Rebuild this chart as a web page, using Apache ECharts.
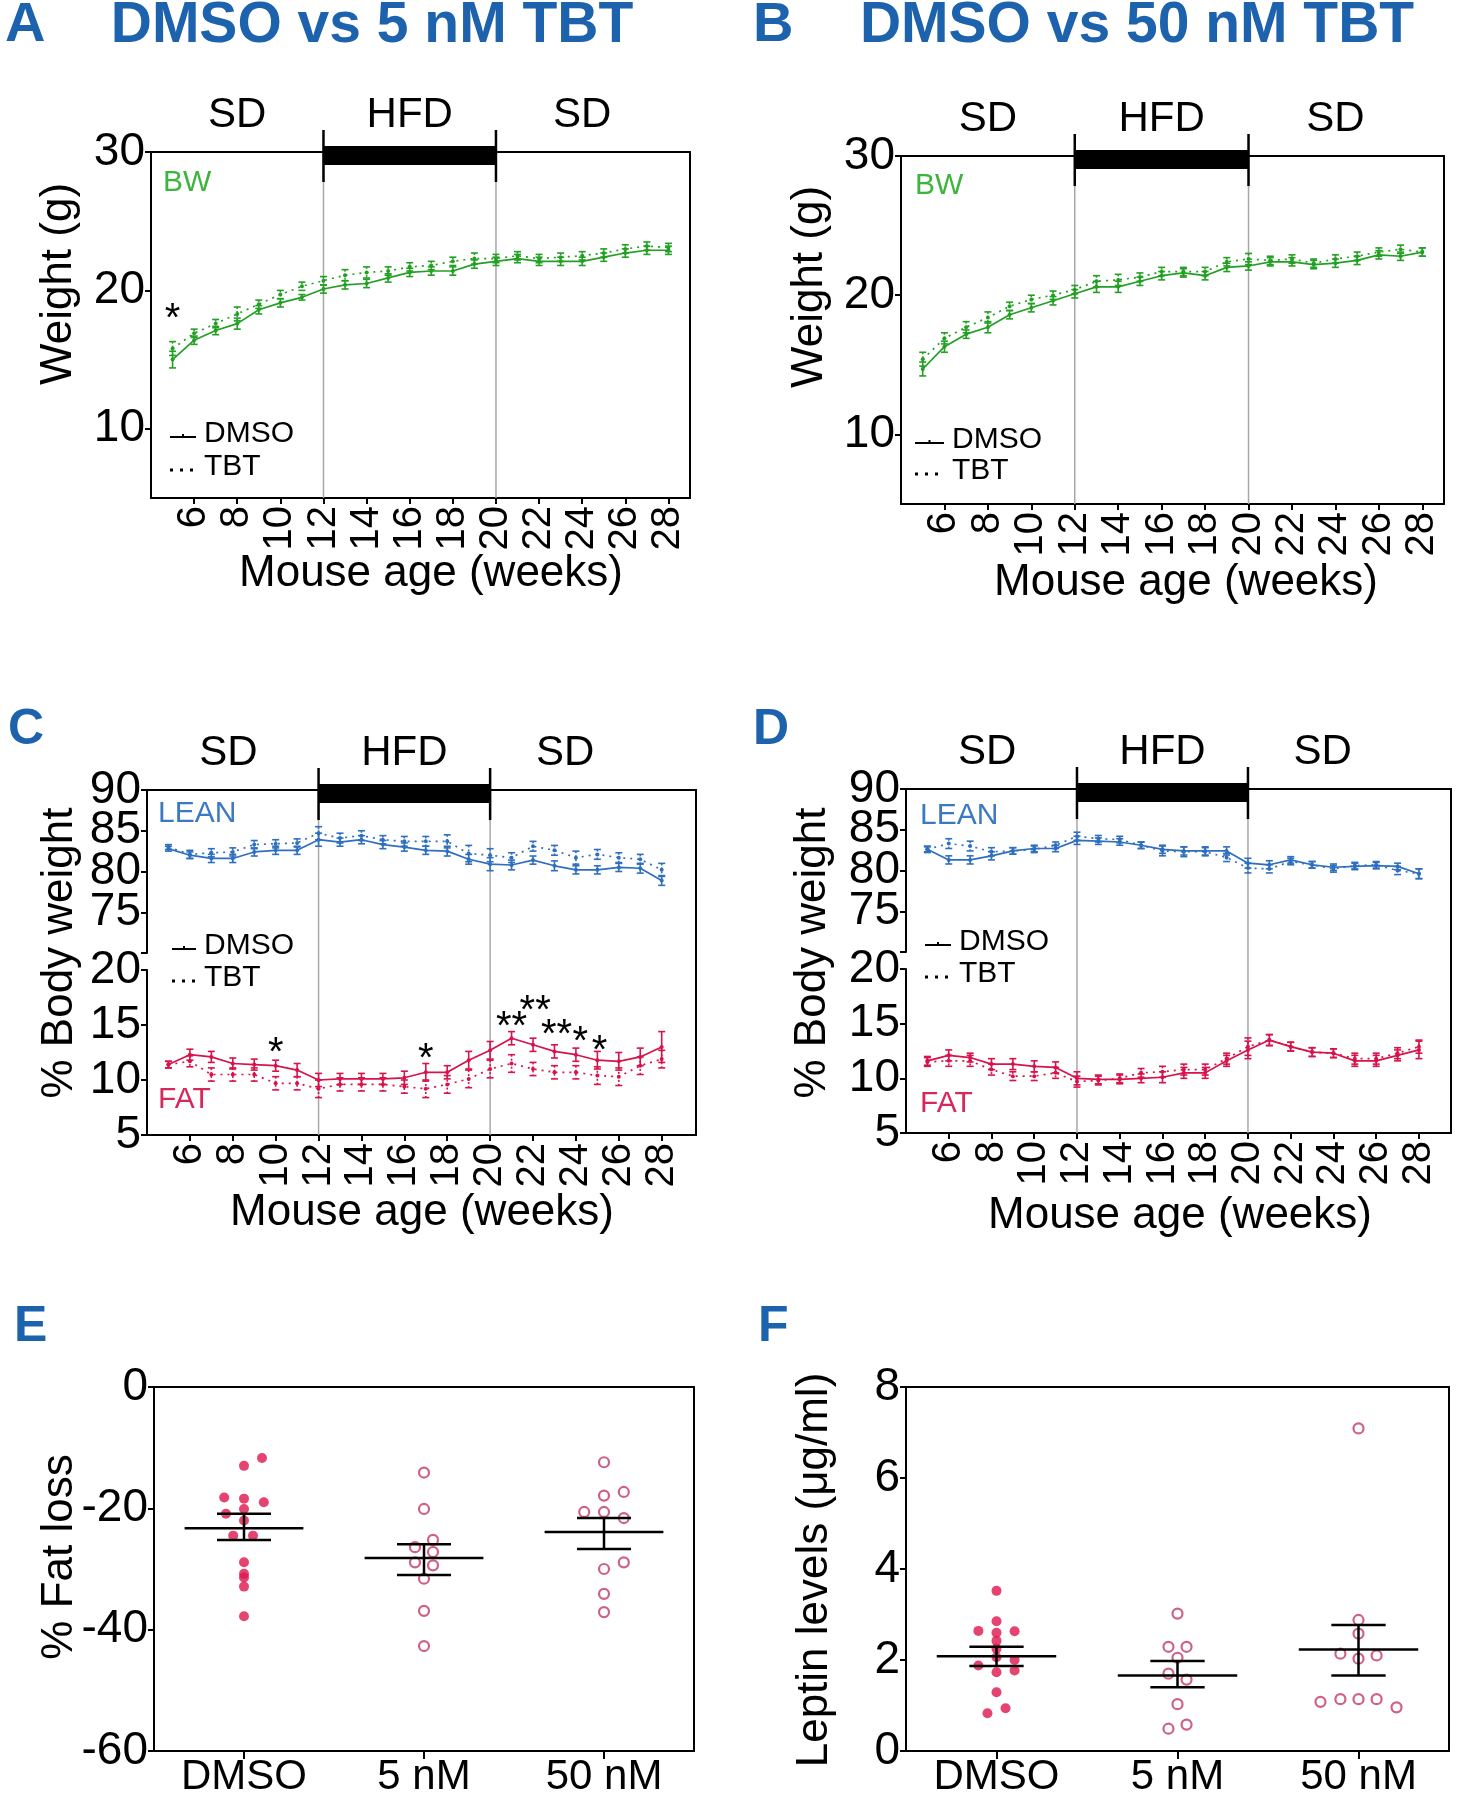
<!DOCTYPE html>
<html><head><meta charset="utf-8">
<script src="https://cdn.jsdelivr.net/npm/echarts@6/dist/echarts.min.js"></script>
<style>html,body{margin:0;padding:0;background:#fff}#c{width:1459px;height:1800px}</style>
</head><body><div id="c"></div>
<script>
// ---------------- DATA ----------------
const weeks = [5,6,7,8,9,10,11,12,13,14,15,16,17,18,19,20,21,22,23,24,25,26,27,28];
const weekTicks = [6,8,10,12,14,16,18,20,22,24,26,28];
const dietLabels = ['SD','HFD','SD'];
const dietLabelWeeksAB = [8,16,24];
const dietLabelWeeksCD = [7.8,16,23.5];
const dietSwitch = [12,20];

// Panel A (DMSO vs 5 nM TBT) body weight, g
const aDmso    = [15.0,16.4,17.1,17.6,18.6,19.1,19.5,20.1,20.4,20.5,20.9,21.3,21.4,21.4,21.9,22.1,22.3,22.1,22.1,22.1,22.4,22.7,22.9,22.9];
const aDmsoErr = [0.6,0.3,0.3,0.4,0.3,0.3,0.2,0.3,0.3,0.3,0.3,0.3,0.3,0.3,0.3,0.3,0.3,0.3,0.3,0.3,0.3,0.3,0.3,0.3];
const aTbt     = [15.8,16.9,17.6,18.3,19.0,19.7,20.3,20.7,21.1,21.3,21.4,21.7,21.8,22.1,22.3,22.3,22.5,22.3,22.4,22.5,22.7,23.0,23.2,23.1];
const aTbtErr  = [0.5,0.3,0.3,0.5,0.3,0.3,0.3,0.3,0.4,0.4,0.3,0.3,0.3,0.3,0.4,0.3,0.3,0.3,0.3,0.3,0.3,0.3,0.3,0.3];
const aStars   = [[5,18.6,'*']];

// Panel B (DMSO vs 50 nM TBT) body weight, g
const bDmso    = [14.7,16.3,17.2,17.7,18.6,19.1,19.6,20.1,20.6,20.6,21.0,21.4,21.6,21.4,22.0,22.1,22.4,22.4,22.2,22.3,22.5,22.9,22.8,23.1];
const bDmsoErr = [0.5,0.4,0.3,0.4,0.3,0.3,0.3,0.3,0.4,0.4,0.3,0.3,0.3,0.3,0.3,0.3,0.3,0.3,0.3,0.3,0.3,0.3,0.3,0.3];
const bTbt     = [15.4,16.9,17.7,18.4,19.2,19.7,20.0,20.4,21.0,21.1,21.3,21.7,21.7,21.7,22.4,22.6,22.5,22.6,22.3,22.6,22.8,23.1,23.3,23.1];
const bTbtErr  = [0.5,0.4,0.4,0.4,0.3,0.3,0.3,0.3,0.4,0.4,0.3,0.3,0.3,0.3,0.3,0.4,0.3,0.3,0.3,0.3,0.3,0.3,0.3,0.3];

// Panel C (5 nM) % body weight
const cLeanDmso    = [82.8,82.0,81.6,81.6,82.4,82.6,82.6,83.9,83.6,83.9,83.3,83.0,82.6,82.5,81.5,80.9,80.8,81.4,80.7,80.2,80.2,80.5,80.4,78.9];
const cLeanDmsoErr = [0.3,0.4,0.5,0.5,0.5,0.5,0.5,0.8,0.5,0.5,0.5,0.5,0.5,0.6,0.6,0.8,0.6,0.5,0.6,0.5,0.5,0.5,0.6,0.6];
const cLeanTbt     = [83.0,82.1,82.3,82.4,83.3,83.4,83.5,84.7,84.1,84.4,83.9,83.7,83.7,83.7,82.2,82.0,81.7,83.1,82.6,81.7,82.1,81.7,81.5,80.2];
const cLeanTbtErr  = [0.3,0.5,0.5,0.5,0.5,0.5,0.5,0.8,0.6,0.6,0.5,0.6,0.6,0.8,1.0,0.8,0.6,0.6,0.6,0.8,0.6,0.6,0.6,0.8];
const cFatDmso     = [11.4,12.3,12.1,11.5,11.4,11.3,10.9,10.0,10.1,10.1,10.1,10.2,10.7,10.7,11.8,12.7,13.8,13.2,12.6,12.3,11.8,11.7,12.1,13.0];
const cFatDmsoErr  = [0.3,0.5,0.5,0.5,0.5,0.5,0.6,0.6,0.5,0.5,0.5,0.6,0.8,0.6,0.8,0.8,0.6,0.6,0.6,0.6,0.8,0.8,0.8,1.4];
const cFatTbt      = [11.4,11.7,10.5,10.5,10.5,9.7,9.7,9.2,9.6,9.6,9.6,9.4,9.2,9.6,10.1,11.0,11.5,11.0,10.7,10.7,10.4,10.3,11.3,11.9];
const cFatTbtErr   = [0.3,0.5,0.6,0.6,0.6,0.6,0.6,0.8,0.6,0.6,0.6,0.6,0.8,0.8,0.8,0.8,0.8,0.6,0.6,0.6,0.8,0.8,0.8,0.8];
const cStars = [[10,13.3,'*'],[17,12.7,'*'],[21,15.6,'**'],[22.1,17.1,'**'],[23.1,14.9,'**'],[24.2,14.3,'*'],[25.1,13.5,'*']];

// Panel D (50 nM) % body weight
const dLeanDmso    = [82.6,81.3,81.3,81.8,82.4,82.7,82.7,83.7,83.6,83.5,83.1,82.6,82.4,82.4,82.4,80.9,80.7,81.3,80.7,80.4,80.5,80.6,80.5,79.6];
const dLeanDmsoErr = [0.3,0.5,0.5,0.5,0.4,0.4,0.4,0.5,0.4,0.4,0.4,0.5,0.5,0.5,0.5,0.6,0.5,0.4,0.4,0.4,0.4,0.4,0.4,0.6];
const dLeanTbt     = [82.6,83.3,83.0,82.3,82.4,82.6,83.1,84.2,83.9,83.8,83.1,82.4,82.3,82.3,81.6,80.3,80.2,81.1,80.7,80.2,80.6,80.7,80.0,79.6];
const dLeanTbtErr  = [0.4,0.6,0.6,0.5,0.4,0.4,0.4,0.5,0.4,0.4,0.4,0.6,0.6,0.5,0.5,0.6,0.5,0.4,0.4,0.4,0.4,0.4,0.5,0.6];
const dFatDmso     = [11.6,12.1,11.9,11.3,11.3,11.1,11.0,10.0,9.9,9.9,10.0,10.1,10.5,10.5,11.6,12.6,13.5,12.9,12.4,12.3,11.6,11.6,12.1,12.6];
const dFatDmsoErr  = [0.4,0.5,0.4,0.5,0.5,0.5,0.5,0.6,0.4,0.4,0.4,0.5,0.5,0.5,0.5,0.8,0.5,0.4,0.4,0.4,0.5,0.5,0.5,0.8];
const dFatTbt      = [11.5,11.6,11.6,10.8,10.2,10.2,10.5,9.7,9.8,10.0,10.5,10.6,10.8,10.8,11.8,12.9,13.5,12.9,12.4,12.3,11.8,11.8,12.3,12.9];
const dFatTbtErr   = [0.4,0.5,0.5,0.5,0.4,0.4,0.5,0.5,0.4,0.4,0.4,0.5,0.5,0.5,0.5,0.8,0.5,0.4,0.4,0.4,0.5,0.5,0.5,0.6];

// Panels E / F
const groups = ['DMSO','5 nM','50 nM'];
const eDmso     = [-11.7,-13.0,-18.2,-19.0,-18.4,-20.1,-20.9,-22.0,-24.5,-24.5,-28.9,-30.8,-31.4,-32.9,-37.8];
const eDmsoJit  = [0.1,0,-0.11,0.11,0,0,-0.1,0,-0.06,0.05,0,0,0,0,0];
const e5nM      = [-14.1,-20.1,-25.2,-26.4,-27.2,-28.9,-29.4,-31.6,-36.9,-42.7];
const e5nMJit   = [0,0,0.05,-0.05,0.05,-0.05,0.05,0,0,0];
const e50nM     = [-12.4,-17.9,-17.3,-20.6,-20.6,-21.6,-30.0,-28.9,-34.1,-37.1];
const e50nMJit  = [0,0,0.11,-0.11,0,0.11,0,0.11,0,0];
const eMean = [-23.3,-28.2,-23.9];
const eSemHi = [-20.9,-25.9,-21.6];
const eSemLo = [-25.2,-31.0,-26.7];

const fDmso     = [3.52,2.85,2.64,2.60,2.63,2.42,2.25,1.88,2.06,2.00,1.73,1.77,1.29,0.94,0.83];
const fDmsoJit  = [0,0,-0.1,0,0.1,0,0,-0.1,0,0.1,0,0.1,0,0.05,-0.05];
const f5nM      = [3.02,2.29,2.29,2.05,1.70,1.57,1.03,0.49,0.58];
const f5nMJit   = [0,-0.05,0.05,0,-0.05,0.05,0,-0.05,0.05];
const f50nM     = [7.09,2.88,2.58,2.14,2.10,2.03,1.08,1.14,1.14,1.14,0.96];
const f50nMJit  = [0,0,0,-0.1,0.1,0,-0.21,-0.1,0,0.1,0.21];
const fMean = [2.08,1.66,2.23];
const fSemHi = [2.29,1.98,2.77];
const fSemLo = [1.87,1.40,1.66];

// ---------------- STYLE / BUILD ----------------
const FONT = '"Liberation Sans", Arial, Helvetica, sans-serif';
const BLK = '#000';
const GREEN = '#23a023', BLUE = '#2f6fbf', RED = '#d8124a';
const RED_F = '#e0154c', RED_O = '#c23a66';
const TITLE_BLUE = '#1d62ad';
const lineSt = {color: BLK, width: 2};

const opt = {animation:false, backgroundColor:'#fff', grid:[], xAxis:[], yAxis:[], series:[], graphic:{elements:[]}};
const G = opt.graphic.elements;

function grid(l,t,w,h){ opt.grid.push({left:l, top:t, width:w, height:h, containLabel:false, outerBoundsMode:'none'}); return opt.grid.length-1; }
function xA(c){ opt.xAxis.push(Object.assign({type:'value', splitLine:{show:false}}, c)); return opt.xAxis.length-1; }
function yA(c){ opt.yAxis.push(Object.assign({type:'value', splitLine:{show:false}}, c)); return opt.yAxis.length-1; }

function txt(x, y, s, size, o){
  o = o || {};
  const al = o.align || 'center';
  G.push({type:'text', x:x, y:y, rotation:o.rot || 0, z:20,
    style:{text:s, x:0, y:0, fill:o.color || BLK,
      font:(o.weight || 'normal') + ' ' + size + 'px ' + FONT,
      align:al, textAlign:al, verticalAlign:'middle', textVerticalAlign:'middle'}});
}

function errSeries(xi, yi, vals, errs, color, dashed){
  return {type:'custom', xAxisIndex:xi, yAxisIndex:yi, clip:false, z:3,
    data: weeks.map((w,i)=>[w, vals[i], errs[i]]),
    renderItem: function(params, api){
      const x = api.value(0), y = api.value(1), e = api.value(2);
      const a = api.coord([x, y+e]), b = api.coord([x, y-e]);
      const c = 3.5;
      const st = {stroke:color, lineWidth:1.6};
      const vs = dashed ? {stroke:color, lineWidth:1.6, lineDash:[2,2]} : st;
      return {type:'group', children:[
        {type:'line', shape:{x1:a[0], y1:a[1], x2:b[0], y2:b[1]}, style:vs},
        {type:'line', shape:{x1:a[0]-c, y1:a[1], x2:a[0]+c, y2:a[1]}, style:st},
        {type:'line', shape:{x1:b[0]-c, y1:b[1], x2:b[0]+c, y2:b[1]}, style:st}
      ]};
    }};
}
function lineSeries(xi, yi, vals, color, dotted){
  return {type:'line', xAxisIndex:xi, yAxisIndex:yi, z:4,
    data: weeks.map((w,i)=>[w, vals[i]]),
    symbol:'circle', symbolSize:4, showSymbol:true,
    lineStyle:{color:color, width:1.7, type: dotted ? [2,5] : 'solid'},
    itemStyle:{color:color}};
}
function starSeries(xi, yi, stars){
  return {type:'custom', xAxisIndex:xi, yAxisIndex:yi, clip:false, z:6,
    data: stars.map(s=>[s[0], s[1]]),
    renderItem: function(params, api){
      const p = api.coord([api.value(0), api.value(1)]);
      return {type:'text', x:p[0], y:p[1]+10,
        style:{text:stars[params.dataIndex][2], fill:BLK, font:'normal 40px ' + FONT,
          align:'center', textAlign:'center', verticalAlign:'middle', textVerticalAlign:'middle'}};
    }};
}

function timePanel(p){
  const fg = grid(p.left, p.top, p.width, p.height);
  const xb = xA({gridIndex:fg, min:4, max:p.xmax, position:'bottom',
    axisLine:{show:true, onZero:false, lineStyle:lineSt},
    axisTick:{show:true, customValues:weekTicks, length:6, lineStyle:lineSt},
    axisLabel:{customValues:weekTicks, rotate:90, fontSize:40, color:BLK, fontFamily:FONT, margin:8, hideOverlap:false}});
  xA({gridIndex:fg, min:4, max:p.xmax, position:'top',
    axisLine:{show:true, onZero:false, lineStyle:lineSt}, axisTick:{show:false}, axisLabel:{show:false}});
  const yr = yA({gridIndex:fg, min:0, max:1, position:'right',
    axisLine:{show:true, onZero:false, lineStyle:lineSt}, axisTick:{show:false}, axisLabel:{show:false}});
  // vertical diet-switch lines
  opt.series.push({type:'custom', xAxisIndex:xb, yAxisIndex:yr, clip:false, z:1,
    data: dietSwitch.map(w=>[w]),
    renderItem: function(params, api){
      const a = api.coord([api.value(0), 0]), b = api.coord([api.value(0), 1]);
      return {type:'line', shape:{x1:a[0], y1:a[1], x2:b[0], y2:b[1]}, style:{stroke:'#a8a8a8', lineWidth:1.5}};
    }});
  // HFD bar on top line
  opt.series.push({type:'custom', xAxisIndex:xb, yAxisIndex:yr, clip:false, z:8,
    data: [[dietSwitch[0], dietSwitch[1]]],
    renderItem: function(params, api){
      const a = api.coord([api.value(0), 1]), b = api.coord([api.value(1), 1]);
      return {type:'group', children:[
        {type:'rect', shape:{x:a[0], y:a[1]-6, width:b[0]-a[0], height:19}, style:{fill:BLK}},
        {type:'line', shape:{x1:a[0], y1:a[1]-22, x2:a[0], y2:a[1]+30}, style:{stroke:BLK, lineWidth:2.5}},
        {type:'line', shape:{x1:b[0], y1:b[1]-22, x2:b[0], y2:b[1]+30}, style:{stroke:BLK, lineWidth:2.5}}
      ]};
    }});
  // diet labels
  opt.series.push({type:'custom', xAxisIndex:xb, yAxisIndex:yr, clip:false, z:8,
    data: p.dietWeeks.map(w=>[w]),
    renderItem: function(params, api){
      const a = api.coord([api.value(0), 1]);
      return {type:'text', x:a[0], y:a[1]-37,
        style:{text:dietLabels[params.dataIndex], fill:BLK, font:'normal 42px ' + FONT,
          align:'center', textAlign:'center', verticalAlign:'middle', textVerticalAlign:'middle'}};
    }});
  p.segments.forEach(s=>{
    const g = grid(p.left, s.top, p.width, s.height);
    const xi = xA({gridIndex:g, min:4, max:p.xmax, show:false});
    // labels are split over two coincident left axes so none of them gets auto-hidden
    const lblA = s.labels.filter((v,i)=>i%2===0), lblB = s.labels.filter((v,i)=>i%2===1);
    const yi = yA({gridIndex:g, min:s.min, max:s.max, interval:5, position:'left',
      axisLine:{show:true, onZero:false, lineStyle:lineSt},
      axisTick:{show:true, customValues:s.ticks, length:6, lineStyle:lineSt},
      axisLabel:{customValues:lblA, interval:0, fontSize:46, color:BLK, fontFamily:FONT, margin:6,
        hideOverlap:false, showMinLabel:true, showMaxLabel:true}});
    if (lblB.length) {
      yA({gridIndex:g, min:s.min, max:s.max, interval:5, position:'left', offset:0,
        axisLine:{show:false}, axisTick:{show:false},
        axisLabel:{customValues:lblB, interval:0, fontSize:46, color:BLK, fontFamily:FONT, margin:6,
          hideOverlap:false, showMinLabel:true, showMaxLabel:true}});
    }
    s.series.forEach(d=>{
      opt.series.push(errSeries(xi, yi, d.vals, d.errs, d.color, d.dotted));
      opt.series.push(lineSeries(xi, yi, d.vals, d.color, d.dotted));
    });
    if (s.stars) opt.series.push(starSeries(xi, yi, s.stars));
  });
}

// Panel A
timePanel({left:151, top:152, width:539, height:346, xmax:29, dietWeeks:dietLabelWeeksAB,
  segments:[{top:152, height:346, min:5, max:30, ticks:[10,20,30], labels:[10,20,30], stars:aStars,
    series:[{vals:aDmso, errs:aDmsoErr, color:GREEN, dotted:false},{vals:aTbt, errs:aTbtErr, color:GREEN, dotted:true}]}]});
// Panel B
timePanel({left:901, top:156, width:543, height:348, xmax:29, dietWeeks:dietLabelWeeksAB,
  segments:[{top:156, height:348, min:5, max:30, ticks:[10,20,30], labels:[10,20,30],
    series:[{vals:bDmso, errs:bDmsoErr, color:GREEN, dotted:false},{vals:bTbt, errs:bTbtErr, color:GREEN, dotted:true}]}]});
// Panel C
timePanel({left:147, top:790, width:549, height:345, xmax:29.6, dietWeeks:dietLabelWeeksCD,
  segments:[
    {top:790, height:163, min:70, max:90, ticks:[70,75,80,85,90], labels:[75,80,85,90],
      series:[{vals:cLeanDmso, errs:cLeanDmsoErr, color:BLUE, dotted:false},{vals:cLeanTbt, errs:cLeanTbtErr, color:BLUE, dotted:true}]},
    {top:970, height:165, min:5, max:20, ticks:[5,10,15,20], labels:[5,10,15,20], stars:cStars,
      series:[{vals:cFatDmso, errs:cFatDmsoErr, color:RED, dotted:false},{vals:cFatTbt, errs:cFatTbtErr, color:RED, dotted:true}]}]});
// Panel D
timePanel({left:906, top:789, width:545, height:344, xmax:29.5, dietWeeks:dietLabelWeeksCD,
  segments:[
    {top:789, height:163, min:70, max:90, ticks:[70,75,80,85,90], labels:[75,80,85,90],
      series:[{vals:dLeanDmso, errs:dLeanDmsoErr, color:BLUE, dotted:false},{vals:dLeanTbt, errs:dLeanTbtErr, color:BLUE, dotted:true}]},
    {top:969, height:164, min:5, max:20, ticks:[5,10,15,20], labels:[5,10,15,20],
      series:[{vals:dFatDmso, errs:dFatDmsoErr, color:RED, dotted:false},{vals:dFatTbt, errs:dFatTbtErr, color:RED, dotted:true}]}]});

function dotPanel(p){
  const g = grid(p.left, p.top, p.width, p.height);
  const xi = xA({gridIndex:g, min:0.5, max:3.5, position:'bottom',
    axisLine:{show:true, onZero:false, lineStyle:lineSt},
    axisTick:{show:true, customValues:[1,2,3], length:8, lineStyle:lineSt},
    axisLabel:{customValues:[1,2,3], formatter:v=>groups[Math.round(v)-1], fontSize:42, color:BLK, fontFamily:FONT, margin:5}});
  xA({gridIndex:g, min:0.5, max:3.5, position:'top',
    axisLine:{show:true, onZero:false, lineStyle:lineSt}, axisTick:{show:false}, axisLabel:{show:false}});
  const yi = yA({gridIndex:g, min:p.min, max:p.max, interval:p.interval, position:'left',
    axisLine:{show:true, onZero:false, lineStyle:lineSt},
    axisTick:{show:true, length:6, lineStyle:lineSt},
    axisLabel:{fontSize:46, color:BLK, fontFamily:FONT, margin:6}});
  yA({gridIndex:g, min:p.min, max:p.max, position:'right',
    axisLine:{show:true, onZero:false, lineStyle:lineSt}, axisTick:{show:false}, axisLabel:{show:false}});
  p.sets.forEach((s,k)=>{
    opt.series.push({type:'scatter', xAxisIndex:xi, yAxisIndex:yi, z:3,
      data: s.vals.map((v,i)=>[k+1+s.jit[i], v]),
      symbol:'circle', symbolSize:10,
      itemStyle: k===0 ? {color:RED_F} : {color:'#fff', borderColor:RED_O, borderWidth:2.2}});
  });
  opt.series.push({type:'custom', xAxisIndex:xi, yAxisIndex:yi, clip:false, z:6,
    data: p.mean.map((m,i)=>[i+1, m, p.hi[i], p.lo[i]]),
    renderItem: function(params, api){
      const x = api.value(0);
      const m1 = api.coord([x-0.33, api.value(1)]), m2 = api.coord([x+0.33, api.value(1)]);
      const h1 = api.coord([x-0.15, api.value(2)]), h2 = api.coord([x+0.15, api.value(2)]);
      const l1 = api.coord([x-0.15, api.value(3)]), l2 = api.coord([x+0.15, api.value(3)]);
      const st = {stroke:BLK, lineWidth:2.5};
      return {type:'group', children:[
        {type:'line', shape:{x1:m1[0], y1:m1[1], x2:m2[0], y2:m2[1]}, style:st},
        {type:'line', shape:{x1:h1[0], y1:h1[1], x2:h2[0], y2:h2[1]}, style:st},
        {type:'line', shape:{x1:l1[0], y1:l1[1], x2:l2[0], y2:l2[1]}, style:st},
        {type:'line', shape:{x1:(h1[0]+h2[0])/2, y1:h1[1], x2:(l1[0]+l2[0])/2, y2:l1[1]}, style:st}
      ]};
    }});
}
dotPanel({left:154, top:1387, width:540, height:364, min:-60, max:0, interval:20,
  sets:[{vals:eDmso, jit:eDmsoJit},{vals:e5nM, jit:e5nMJit},{vals:e50nM, jit:e50nMJit}],
  mean:eMean, hi:eSemHi, lo:eSemLo});
dotPanel({left:906, top:1387, width:543, height:364, min:0, max:8, interval:2,
  sets:[{vals:fDmso, jit:fDmsoJit},{vals:f5nM, jit:f5nMJit},{vals:f50nM, jit:f50nMJit}],
  mean:fMean, hi:fSemHi, lo:fSemLo});

// ---------------- TEXT ----------------
txt(5, 26, 'A', 56, {weight:'bold', color:TITLE_BLUE, align:'left'});
txt(372, 26, 'DMSO vs 5 nM TBT', 57, {weight:'bold', color:TITLE_BLUE});
txt(753, 26, 'B', 56, {weight:'bold', color:TITLE_BLUE, align:'left'});
txt(1137, 26, 'DMSO vs 50 nM TBT', 57, {weight:'bold', color:TITLE_BLUE});
txt(8, 730, 'C', 50, {weight:'bold', color:TITLE_BLUE, align:'left'});
txt(753, 730, 'D', 50, {weight:'bold', color:TITLE_BLUE, align:'left'});
txt(14, 1327, 'E', 50, {weight:'bold', color:TITLE_BLUE, align:'left'});
txt(758, 1327, 'F', 50, {weight:'bold', color:TITLE_BLUE, align:'left'});

const R = Math.PI/2;
txt(59, 284, 'Weight (g)', 44, {rot:R});
txt(810, 287, 'Weight (g)', 44, {rot:R});
txt(60, 953, '% Body weight', 44, {rot:R});
txt(813, 953, '% Body weight', 44, {rot:R});
txt(60, 1557, '% Fat loss', 44, {rot:R});
txt(815, 1570, 'Leptin levels (μg/ml)', 44, {rot:R});

txt(431, 574, 'Mouse age (weeks)', 44);
txt(1186, 583, 'Mouse age (weeks)', 44);
txt(422, 1213, 'Mouse age (weeks)', 44);
txt(1180, 1216, 'Mouse age (weeks)', 44);

txt(163, 183, 'BW', 30, {color:'#3db43d', align:'left'});
txt(915, 186, 'BW', 30, {color:'#3db43d', align:'left'});
txt(158, 814, 'LEAN', 30, {color:'#3b78c6', align:'left'});
txt(920, 816, 'LEAN', 30, {color:'#3b78c6', align:'left'});
txt(158, 1100, 'FAT', 30, {color:'#d7285c', align:'left'});
txt(920, 1104, 'FAT', 30, {color:'#d7285c', align:'left'});

function legend(x0, x1, tx, y1, y2){
  G.push({type:'line', shape:{x1:x0, y1:y1+3, x2:x1, y2:y1+3}, style:{stroke:BLK, lineWidth:2}, z:20});
  G.push({type:'line', shape:{x1:(x0+x1)/2, y1:y1, x2:(x0+x1)/2, y2:y1+3}, style:{stroke:BLK, lineWidth:2}, z:20});
  G.push({type:'line', shape:{x1:x0, y1:y2+3, x2:x1, y2:y2+3}, style:{stroke:BLK, lineWidth:3, lineDash:[3,7]}, z:20});
  txt(tx, y1, 'DMSO', 30, {align:'left'});
  txt(tx, y2, 'TBT', 30, {align:'left'});
}
legend(170, 196, 204, 434, 467);
legend(915, 944, 952, 440, 471);
legend(172, 196, 204, 946, 978);
legend(925, 951, 959, 942, 974);

const chart = echarts.init(document.getElementById('c'), null, {renderer:'canvas'});
chart.setOption(opt);
</script>
</body></html>
